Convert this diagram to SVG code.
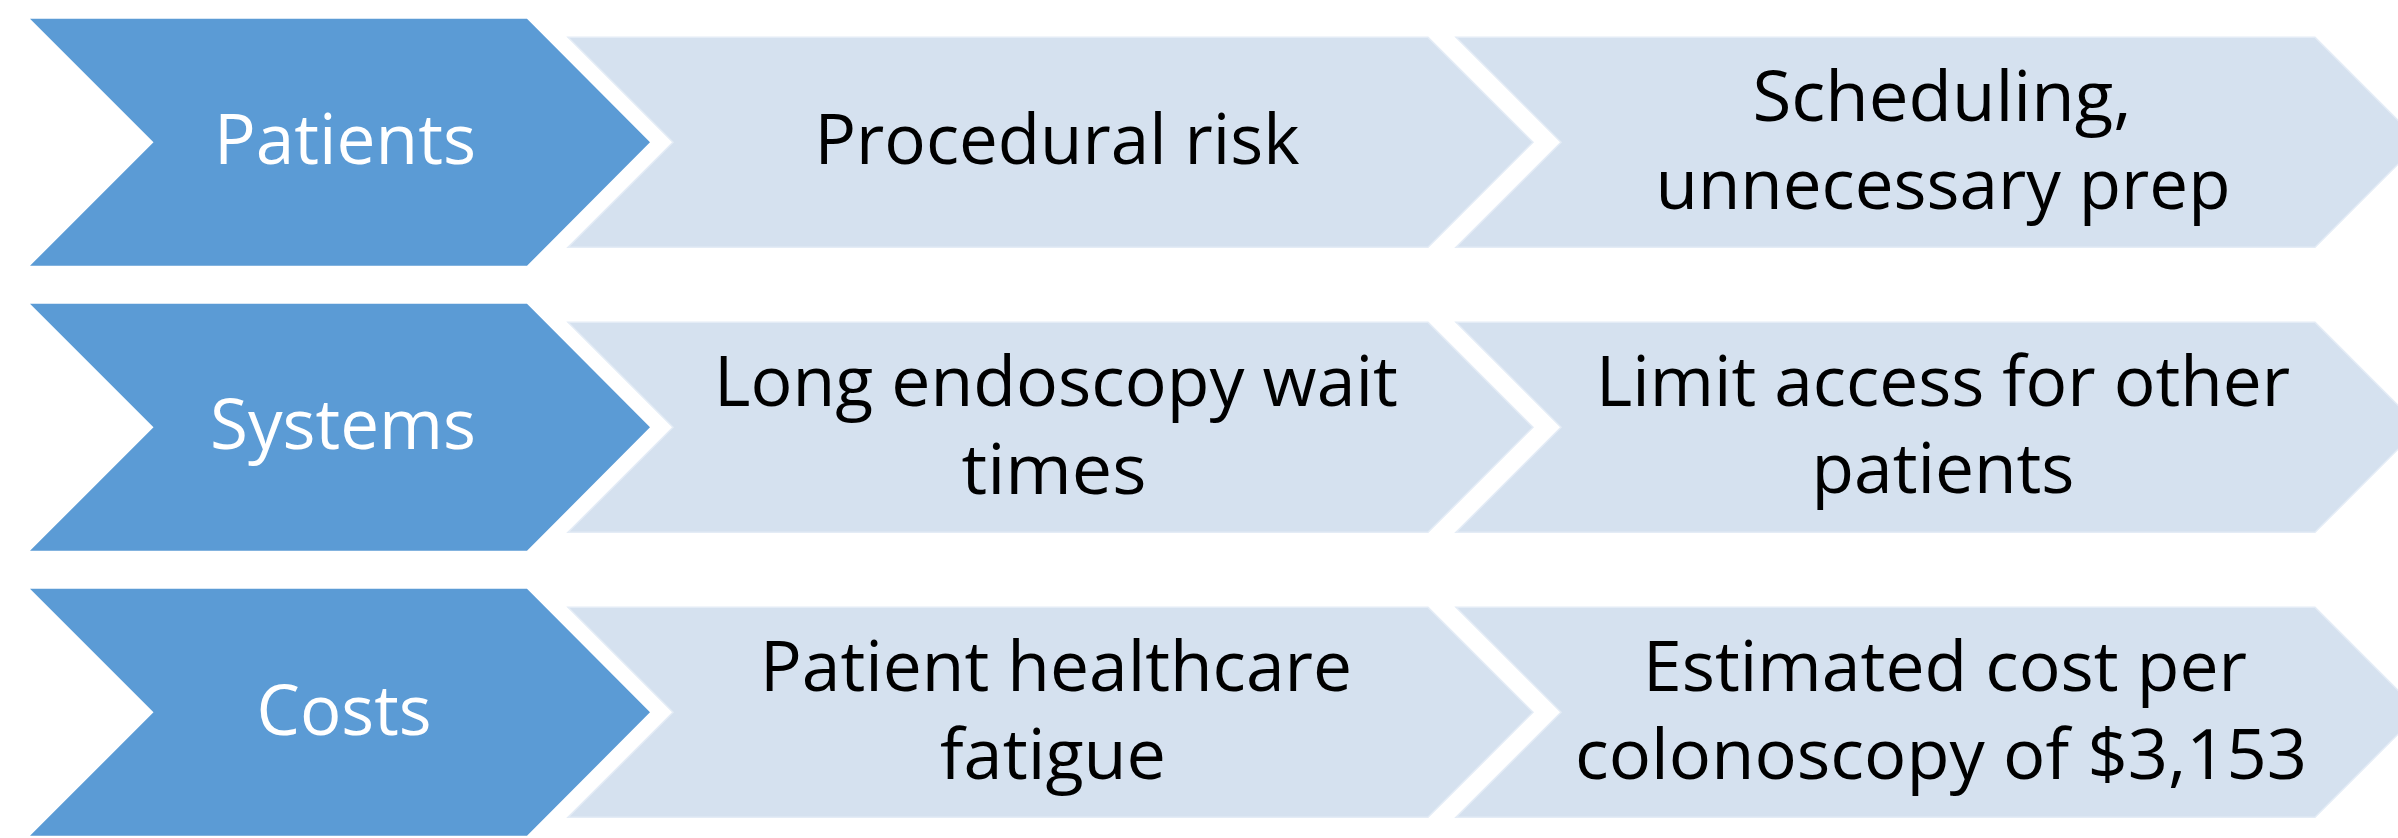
<svg xmlns="http://www.w3.org/2000/svg" xmlns:xlink="http://www.w3.org/1999/xlink" width="2398" height="838" viewBox="0 0 2398 838">
  <defs>
    <style>
      .head { fill: #5B9BD5; }
      .step { fill: #D5E1EF; stroke: #E4ECF6; stroke-width: 1.5; }
      text { font-family: "Open Sans", "Noto Sans", "Liberation Sans", sans-serif; font-size: 70px; text-anchor: middle; }
      .head-label { fill: #FFFFFF; }
      .step-label { fill: #000000; }
    </style>
    <!-- chevron outlines, drawn around a row centre line at y=0 -->
    <polygon id="chev-head" points="30,-123.5 527,-123.5 650,0 527,123.5 30,123.5 153.5,0"/>
    <polygon id="chev-mid" points="568,-105 1428,-105 1533,0 1428,105 568,105 673,0"/>
    <polygon id="chev-end" points="1456,-105 2315,-105 2420,0 2315,105 1456,105 1561,0"/>
  </defs>
  <rect x="0" y="0" width="2398" height="838" fill="#FFFFFF"/>

  <!-- row 1 -->
  <g id="patients" transform="translate(0,142.3)">
    <use xlink:href="#chev-head" class="head"/>
    <text class="head-label" x="345" y="22" textLength="262" lengthAdjust="spacingAndGlyphs">Patients</text>
  </g>
  <g id="procedural-risk" transform="translate(0,142.3)">
    <use xlink:href="#chev-mid" class="step"/>
    <text class="step-label" x="1057" y="22" textLength="485" lengthAdjust="spacingAndGlyphs">Procedural risk</text>
  </g>
  <g id="scheduling" transform="translate(0,142.3)">
    <use xlink:href="#chev-end" class="step"/>
    <text class="step-label" x="1942" y="-21.6" textLength="379" lengthAdjust="spacingAndGlyphs">Scheduling,</text>
    <text class="step-label" x="1943" y="67" textLength="575" lengthAdjust="spacingAndGlyphs">unnecessary prep</text>
  </g>

  <!-- row 2 -->
  <g id="systems" transform="translate(0,427.3)">
    <use xlink:href="#chev-head" class="head"/>
    <text class="head-label" x="343" y="22" textLength="266" lengthAdjust="spacingAndGlyphs">Systems</text>
  </g>
  <g id="wait-times" transform="translate(0,427.3)">
    <use xlink:href="#chev-mid" class="step"/>
    <text class="step-label" x="1056" y="-21.3" textLength="684" lengthAdjust="spacingAndGlyphs">Long endoscopy wait</text>
    <text class="step-label" x="1054" y="66.7" textLength="185" lengthAdjust="spacingAndGlyphs">times</text>
  </g>
  <g id="limit-access" transform="translate(0,427.3)">
    <use xlink:href="#chev-end" class="step"/>
    <text class="step-label" x="1943" y="-21.3" textLength="694" lengthAdjust="spacingAndGlyphs">Limit access for other</text>
    <text class="step-label" x="1943" y="66" textLength="263" lengthAdjust="spacingAndGlyphs">patients</text>
  </g>

  <!-- row 3 -->
  <g id="costs" transform="translate(0,712.3)">
    <use xlink:href="#chev-head" class="head"/>
    <text class="head-label" x="344" y="22.7" textLength="175" lengthAdjust="spacingAndGlyphs">Costs</text>
  </g>
  <g id="healthcare-fatigue" transform="translate(0,712.3)">
    <use xlink:href="#chev-mid" class="step"/>
    <text class="step-label" x="1056" y="-21.3" textLength="592" lengthAdjust="spacingAndGlyphs">Patient healthcare</text>
    <text class="step-label" x="1053" y="66.7" textLength="226" lengthAdjust="spacingAndGlyphs">fatigue</text>
  </g>
  <g id="cost-per-colonoscopy" transform="translate(0,712.3)">
    <use xlink:href="#chev-end" class="step"/>
    <text class="step-label" x="1945" y="-21.3" textLength="604" lengthAdjust="spacingAndGlyphs">Estimated cost per</text>
    <text class="step-label" x="1941" y="66.7" textLength="732" lengthAdjust="spacingAndGlyphs">colonoscopy of $3,153</text>
  </g>

  <!-- no connectors: the chevrons carry the flow -->
  <g id="connectors"/>
</svg>
